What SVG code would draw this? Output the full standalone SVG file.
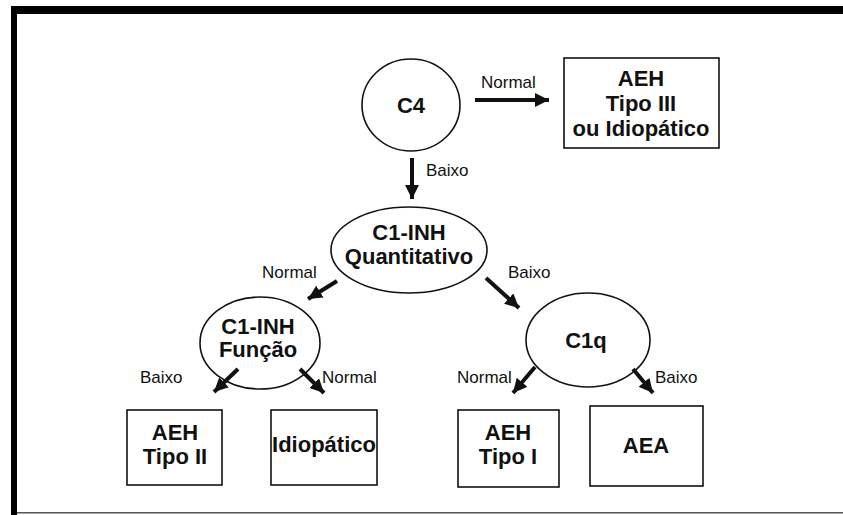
<svg xmlns="http://www.w3.org/2000/svg" width="843" height="515" viewBox="0 0 843 515">
<defs>
<marker id="ah" markerUnits="userSpaceOnUse" markerWidth="16" markerHeight="14" refX="14" refY="7" orient="auto">
<path d="M0,0 L14,7 L0,14 Z" fill="#111"/>
</marker>
</defs>
<style>
.n{fill:none;stroke:#111;stroke-width:1.6}
.t{font-family:"Liberation Sans",Arial,sans-serif;font-weight:bold;font-size:22px;fill:#111;text-anchor:middle}
.l{font-family:"Liberation Sans",Arial,sans-serif;font-size:17px;fill:#111}
.a{stroke:#111;stroke-width:4;fill:none;marker-end:url(#ah)}
</style>
<rect width="843" height="515" fill="#fff"/>
<g id="frame">
<rect x="11" y="6" width="832" height="8" fill="#000"/>
<rect x="11" y="6" width="6" height="509" fill="#000"/>
<rect x="17" y="512" width="826" height="1.5" fill="#555"/>
</g>
<g id="c4"><ellipse class="n" cx="411" cy="105" rx="49" ry="46"/><text class="t" x="411" y="113">C4</text></g>
<g id="aeh3"><rect class="n" x="564" y="58" width="155" height="90"/>
<text class="t" x="641" y="86">AEH</text><text class="t" x="641" y="111">Tipo III</text><text class="t" x="641" y="136">ou Idiopático</text></g>
<g id="quant"><ellipse class="n" cx="409" cy="250" rx="78" ry="43"/>
<text class="t" x="409" y="240">C1-INH</text><text class="t" x="409" y="264">Quantitativo</text></g>
<g id="funcao"><ellipse class="n" cx="260" cy="343" rx="60" ry="46"/>
<text class="t" x="258" y="334">C1-INH</text><text class="t" x="258" y="357">Função</text></g>
<g id="c1q"><ellipse class="n" cx="588" cy="340" rx="62" ry="47"/>
<text class="t" x="586" y="348">C1q</text></g>
<g id="aeh2"><rect class="n" x="127" y="410" width="95" height="75"/>
<text class="t" x="175" y="440">AEH</text><text class="t" x="175" y="464">Tipo II</text></g>
<g id="idio"><rect class="n" x="271" y="410" width="106" height="75"/>
<text class="t" x="324" y="452">Idiopático</text></g>
<g id="aeh1"><rect class="n" x="458" y="410" width="101" height="77"/>
<text class="t" x="508" y="440">AEH</text><text class="t" x="508" y="464">Tipo I</text></g>
<g id="aea"><rect class="n" x="590" y="406" width="113" height="80"/>
<text class="t" x="646" y="453">AEA</text></g>
<g id="connectors">
<line class="a" x1="475" y1="100" x2="549" y2="100"/>
<line class="a" x1="412" y1="158" x2="412" y2="199"/>
<line class="a" x1="337" y1="281" x2="308" y2="299"/>
<line class="a" x1="486" y1="278" x2="519" y2="308"/>
<line class="a" x1="238" y1="369" x2="214" y2="392"/>
<line class="a" x1="300" y1="369" x2="324" y2="393"/>
<line class="a" x1="535" y1="367" x2="513" y2="393"/>
<line class="a" x1="633" y1="369" x2="653" y2="393"/>
</g>
<g id="labels">
<text class="l" x="481" y="88">Normal</text>
<text class="l" x="426" y="176">Baixo</text>
<text class="l" x="262" y="278">Normal</text>
<text class="l" x="508" y="278">Baixo</text>
<text class="l" x="140" y="383">Baixo</text>
<text class="l" x="322" y="383">Normal</text>
<text class="l" x="457" y="383">Normal</text>
<text class="l" x="655" y="383">Baixo</text>
</g>
</svg>
